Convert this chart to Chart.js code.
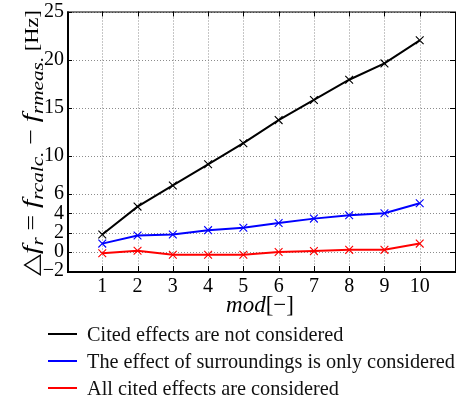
<!DOCTYPE html>
<html>
<head>
<meta charset="utf-8">
<script src="https://cdn.jsdelivr.net/npm/chart.js@4.4.1/dist/chart.umd.min.js"></script>
<style>
html,body{margin:0;padding:0;background:#fff}
#wrap{position:relative;width:462px;height:400px}
#legend{position:absolute;left:48px;top:0;font-family:'Liberation Serif',serif;font-size:20.3px;color:#111}
.item{position:absolute;left:0;white-space:nowrap;height:22px}
.swatch{position:absolute;left:0;top:10px;width:29px;height:2px}
.lbl{position:absolute;left:39px;top:0;line-height:22px}
</style>
</head>
<body>
<div id="wrap">
  <canvas id="chart" width="462" height="400"></canvas>
  <div id="legend"></div>
</div>
<script>
const modes = [1, 2, 3, 4, 5, 6, 7, 8, 9, 10];
const notConsidered = [1.8, 4.7, 6.9, 9.1, 11.3, 13.7, 15.8, 17.9, 19.6, 22.0];
const surroundingsOnly = [0.85, 1.7, 1.8, 2.25, 2.5, 3.0, 3.45, 3.8, 4.0, 5.05];
const allConsidered = [-0.15, 0.1, -0.3, -0.3, -0.3, -0.03, 0.07, 0.2, 0.2, 0.85];
const seriesNames = [
  'Cited effects are not considered',
  'The effect of surroundings is only considered',
  'All cited effects are considered'
];
const seriesColors = ['#000000', '#0000ff', '#ff0000'];
const xTicks = [1, 2, 3, 4, 5, 6, 7, 8, 9, 10];
const yTicks = [-2, 0, 2, 4, 6, 10, 15, 20, 25];

const $ = (id) => document.getElementById(id);
const serif = "'Liberation Serif', 'DejaVu Serif', serif";
const pts = (vals) => modes.map((m, i) => ({x: m, y: vals[i]}));

function dataset(i, vals){
  return {
    label: seriesNames[i], data: pts(vals),
    borderColor: seriesColors[i], backgroundColor: seriesColors[i],
    borderWidth: 2, tension: 0,
    pointStyle: 'crossRot', pointRadius: 5.5, pointBorderWidth: 1.1,
    pointBorderColor: seriesColors[i]
  };
}

// dotted grid, drawn under the lines
const dottedGrid = {
  id: 'dottedGrid',
  beforeDatasetsDraw(chart){
    const {ctx, chartArea: a, scales: {x, y}} = chart;
    ctx.save();
    ctx.strokeStyle = '#8c8c8c';
    ctx.lineWidth = 1;
    ctx.setLineDash([1, 2]);
    ctx.beginPath();
    xTicks.forEach(v => {
      const px = Math.round(x.getPixelForValue(v)) + 0.5;
      ctx.moveTo(px, a.top); ctx.lineTo(px, a.bottom);
    });
    yTicks.forEach(v => {
      const py = Math.round(y.getPixelForValue(v)) + 0.5;
      ctx.moveTo(a.left, py); ctx.lineTo(a.right, py);
    });
    ctx.stroke();
    ctx.restore();
  }
};

// frame box + inward tick marks like matlab
const frame = {
  id: 'frame',
  afterDraw(chart){
    const {ctx, chartArea: a, scales: {x, y}} = chart;
    ctx.save();
    ctx.strokeStyle = '#000';
    ctx.lineWidth = 1;
    ctx.strokeRect(a.left + 0.5, a.top + 0.5, a.right - a.left, a.bottom - a.top);
    ctx.lineWidth = 2;
    ctx.beginPath();
    ctx.moveTo(a.left + 1, a.top); ctx.lineTo(a.left + 1, a.bottom + 1); ctx.lineTo(a.right + 1, a.bottom + 1);
    ctx.stroke();
    ctx.lineWidth = 1;
    ctx.beginPath();
    xTicks.forEach(v => {
      const px = Math.round(x.getPixelForValue(v)) + 0.5;
      ctx.moveTo(px, a.bottom); ctx.lineTo(px, a.bottom - 5);
      ctx.moveTo(px, a.top); ctx.lineTo(px, a.top + 5);
    });
    yTicks.forEach(v => {
      const py = Math.round(y.getPixelForValue(v)) + 0.5;
      ctx.moveTo(a.left, py); ctx.lineTo(a.left + 5, py);
      ctx.moveTo(a.right, py); ctx.lineTo(a.right - 5, py);
    });
    ctx.stroke();
    ctx.restore();
  }
};

// draws mixed-style text centred on (cx, cy), stretched to width when given
function drawPieces(ctx, pieces, cx, cy, width){
  let total = 0;
  pieces.forEach(p => { ctx.font = p.font; p.w = ctx.measureText(p.t).width; total += p.w; });
  const k = width ? width / total : 1;
  ctx.translate(cx, cy);
  ctx.scale(k, 1);
  let xx = -total / 2;
  pieces.forEach(p => {
    ctx.font = p.font;
    ctx.fillText(p.t, xx, p.dy || 0);
    xx += p.w;
  });
}

const titles = {
  id: 'titles',
  afterDraw(chart){
    const {ctx} = chart;
    const big = `22px ${serif}`, it = `italic 24px ${serif}`, sub = `italic 17px ${serif}`;
    ctx.save();
    ctx.fillStyle = '#000';
    ctx.textBaseline = 'alphabetic';
    ctx.textAlign = 'left';
    ctx.translate(38, 143);
    ctx.rotate(-Math.PI / 2);
    drawPieces(ctx, [
      {t: '\u25B3', font: `23px ${serif}`}, {t: 'f', font: it}, {t: 'r', font: sub, dy: 5},
      {t: ' = ', font: big}, {t: 'f', font: it}, {t: 'rcalc.', font: sub, dy: 5},
      {t: ' \u2212 ', font: big}, {t: 'f', font: it}, {t: 'rmeas.', font: sub, dy: 5},
      {t: ' [Hz]', font: `18px ${serif}`}
    ], 0, 0, 266);
    ctx.restore();
    ctx.save();
    ctx.fillStyle = '#000';
    ctx.textBaseline = 'alphabetic';
    ctx.textAlign = 'left';
    drawPieces(ctx, [
      {t: 'mod', font: `italic 23px ${serif}`}, {t: '[\u2212]', font: `23px ${serif}`}
    ], 260, 312);
    ctx.restore();
  }
};

new Chart($('chart'), {
  type: 'line',
  data: {datasets: [dataset(0, notConsidered), dataset(1, surroundingsOnly), dataset(2, allConsidered)]},
  options: {
    responsive: false, animation: false,
    layout: {padding: {left: 0, right: 7, top: 9, bottom: 99}},
    plugins: {legend: {display: false}, tooltip: {enabled: false}},
    scales: {
      x: {
        type: 'linear', min: 0, max: 11,
        afterBuildTicks: s => { s.ticks = xTicks.map(v => ({value: v})); },
        afterFit: s => { s.height = 30; },
        ticks: {font: {family: serif, size: 20}, color: '#000', padding: 4, maxRotation: 0},
        grid: {display: false, drawTicks: false},
        border: {display: false}
      },
      y: {
        min: -2, max: 25,
        afterBuildTicks: s => { s.ticks = yTicks.map(v => ({value: v})); },
        afterFit: s => { s.width = 67; },
        ticks: {
          font: {family: serif, size: 20, lineHeight: 0.85}, color: '#000', padding: 3,
          callback: v => String(v).replace('-', '\u2212')
        },
        grid: {display: false, drawTicks: false},
        border: {display: false}
      }
    }
  },
  plugins: [dottedGrid, frame, titles]
});

const legendTops = [323, 350, 377];
$('legend').innerHTML = seriesNames.map((n, i) => `
  <div class="item" style="top:${legendTops[i]}px">
    <div class="swatch" style="background:${seriesColors[i]}"></div>
    <div class="lbl">${n}</div>
  </div>`).join('');
</script>
</body>
</html>
